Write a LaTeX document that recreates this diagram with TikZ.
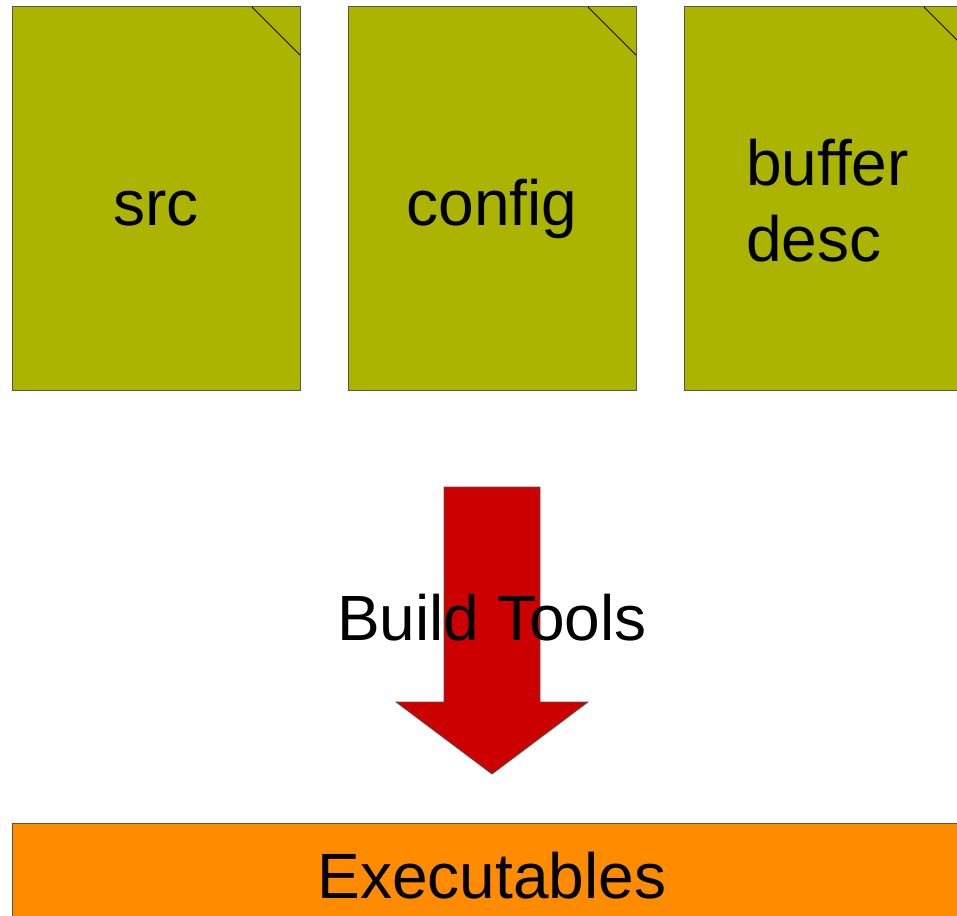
\documentclass[tikz,border=0pt]{standalone}
\usepackage{fontspec}
\setmainfont{Liberation Sans}
\definecolor{docgreen}{HTML}{ABB400}
\definecolor{arrowred}{HTML}{CC0000}
\definecolor{exeorange}{HTML}{FF8C00}
\definecolor{edgegray}{HTML}{555555}
\begin{document}
\begin{tikzpicture}[x=1pt,y=-1pt,
  docbox/.style={fill=docgreen,draw=edgegray,line width=1pt},
  foldline/.style={draw=black,line width=1pt},
  bigtext/.style={font=\fontsize{64}{77}\selectfont,inner sep=0pt,anchor=base,align=left}]
\useasboundingbox (0,0) rectangle (957,915);
\clip (0,0) rectangle (957,915);
\fill[white] (0,0) rectangle (957,915);
% documents
\path[docbox] (12,7) rectangle (300,390);
\draw[foldline] (252,7) -- (300,55);
\path[docbox] (348,7) rectangle (636,390);
\draw[foldline] (588,7) -- (636,55);
\path[docbox] (684,7) rectangle (972,390);
\draw[foldline] (924,7) -- (972,55);
\node[bigtext] (src) at (156,225) {src};
\node[bigtext] (config) at (492,225) {config};
\node[bigtext,anchor=base west] (buf) at (746,185) {buffer};
\node[bigtext,anchor=base west] (desc) at (746,261) {desc};
% arrow
\path[fill=arrowred,draw=edgegray,line width=0.8pt]
  (444,487) -- (540,487) -- (540,702) -- (588,702) -- (492,774) -- (396,702) -- (444,702) -- cycle;
\node[bigtext] (build) at (492,640) {Build Tools};
% executables
\path[fill=exeorange,draw=edgegray,line width=1pt] (12,823) rectangle (980,940);
\node[bigtext] (exe) at (492,898) {Executables};
\end{tikzpicture}
\end{document}
